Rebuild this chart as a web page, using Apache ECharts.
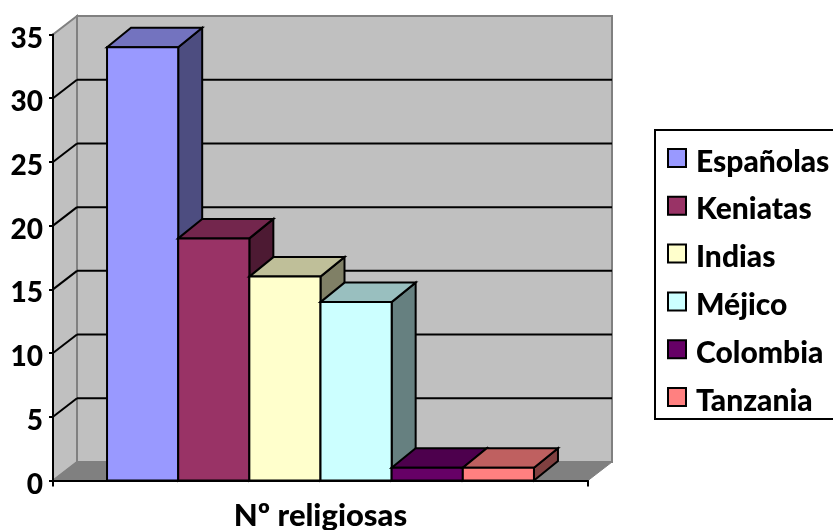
<!DOCTYPE html>
<html>
<head>
<meta charset="utf-8">
<style>html,body{margin:0;padding:0;background:#fff;overflow:hidden}#chart{width:833px;height:530px}</style>
<script src="https://cdn.jsdelivr.net/npm/echarts@6/dist/echarts.min.js"></script>
</head>
<body>
<div id="chart"></div>
<script>
const categories = ['Nº religiosas'];
const groupNames = ['Españolas', 'Keniatas', 'Indias', 'Méjico', 'Colombia', 'Tanzania'];
const groupValues = [34, 19, 16, 14, 1, 1];
const groupColors = ['#9999FF', '#993366', '#FFFFCC', '#CCFFFF', '#660066', '#FF8080'];
const yTicks = [5, 10, 15, 20, 25, 30];

// Oblique offset of the 3D box (pixels towards the back wall)
const WALL_DX = 24, WALL_DY = -18.5;
const BAR_DX = 24, BAR_DY = -19.5;
const BAR_SHARE = 0.133; // one bar's width as a share of the category band
const FONT = 'Lato';

function shade(hex, k) {
  const n = parseInt(hex.slice(1), 16);
  const c = [n >> 16, (n >> 8) & 255, n & 255].map(v => Math.round(v * k));
  return 'rgb(' + c.join(',') + ')';
}

function poly(points, fill, stroke, width) {
  return {
    type: 'polygon',
    shape: { points },
    style: { fill, stroke, lineWidth: width, lineJoin: 'miter' }
  };
}

function line(a, b, stroke, width) {
  return {
    type: 'line',
    shape: { x1: a[0], y1: a[1], x2: b[0], y2: b[1] },
    style: { stroke, lineWidth: width }
  };
}

// Side wall, back wall and floor, with the gridlines folded across both walls
function renderWalls(params, api) {
  const band = api.size([1, 0])[0];
  const c = api.coord([0, 0])[0];
  const x0 = c - band / 2, x1 = c + band / 2;
  const y0 = api.coord([0, 0])[1], yTop = api.coord([0, 35])[1];
  const bx0 = x0 + WALL_DX, bx1 = x1 + WALL_DX;
  const grey = '#808080';
  const children = [
    poly([[x0, y0], [bx0, y0 + WALL_DY], [bx0, yTop + WALL_DY], [x0, yTop]], '#C0C0C0', grey, 2),
    poly([[bx0, y0 + WALL_DY], [bx1, y0 + WALL_DY], [bx1, yTop + WALL_DY], [bx0, yTop + WALL_DY]], '#C0C0C0', grey, 2),
    poly([[x0, y0], [bx0, y0 + WALL_DY], [bx1, y0 + WALL_DY], [x1, y0]], grey, grey, 1)
  ];
  yTicks.forEach(v => {
    const y = api.coord([0, v])[1];
    children.push(line([x0, y], [bx0, y + WALL_DY], '#000', 2));
    children.push(line([bx0, y + WALL_DY], [bx1, y + WALL_DY], '#000', 2));
  });
  return { type: 'group', children };
}

function barRenderer(index) {
  return function (params, api) {
    const band = api.size([1, 0])[0];
    const w = band * BAR_SHARE;
    const p = api.coord([api.value(0), api.value(1)]);
    const yBase = api.coord([api.value(0), 0])[1];
    const xL = p[0] + (index - groupNames.length / 2) * w;
    const xR = xL + w;
    const yT = p[1];
    const color = groupColors[index];
    return {
      type: 'group',
      children: [
        poly([[xR, yBase], [xR + BAR_DX, yBase + BAR_DY], [xR + BAR_DX, yT + BAR_DY], [xR, yT]], shade(color, 0.5), '#000', 2),
        poly([[xL, yT], [xL + BAR_DX, yT + BAR_DY], [xR + BAR_DX, yT + BAR_DY], [xR, yT]], shade(color, 0.75), '#000', 2),
        poly([[xL, yBase], [xR, yBase], [xR, yT], [xL, yT]], color, '#000', 2)
      ]
    };
  };
}

const chart = echarts.init(document.getElementById('chart'), null, { renderer: 'canvas' });

chart.setOption({
  animation: false,
  backgroundColor: '#fff',
  textStyle: { fontFamily: FONT },
  grid: { left: 53, right: 245, top: 34.5, bottom: 49.5, outerBoundsMode: 'none' },
  xAxis: {
    type: 'category',
    data: categories,
    axisLine: { show: true, lineStyle: { color: '#000', width: 2 } },
    axisTick: { show: true, length: 6, lineStyle: { color: '#000', width: 2 } },
    axisLabel: { color: '#000', fontFamily: FONT, fontWeight: 900, fontSize: 31, margin: 20 },
    z: 10
  },
  yAxis: {
    type: 'value',
    min: 0,
    max: 35,
    interval: 5,
    splitLine: { show: false },
    axisLine: { show: true, lineStyle: { color: '#000', width: 2 } },
    axisTick: { show: true, length: 4, lineStyle: { color: '#000', width: 2 } },
    axisLabel: { color: '#000', fontFamily: FONT, fontWeight: 900, fontSize: 28, margin: 10, verticalAlign: 'top', lineHeight: 8 },
    z: 10
  },
  legend: {
    orient: 'vertical',
    left: 655,
    top: 130,
    padding: [17, 30, 3, 12],
    itemWidth: 18,
    itemHeight: 18,
    itemGap: 17.8,
    backgroundColor: '#fff',
    borderColor: '#000',
    borderWidth: 2,
    formatter: name => '{t|' + name + '}',
    textStyle: {
      color: '#000', fontFamily: FONT, fontWeight: 900, fontSize: 30, padding: [0, 0, 0, 5],
      rich: {
        // Sits the text a little below the swatch centre
        t: { color: '#000', fontFamily: FONT, fontWeight: 900, fontSize: 30, height: 22, lineHeight: 30, verticalAlign: 'bottom' }
      }
    },
    data: groupNames.map((name, i) => ({
      name,
      icon: 'rect',
      itemStyle: { color: groupColors[i], borderColor: '#000', borderWidth: 2 }
    }))
  },
  series: [
    {
      type: 'custom',
      name: 'walls',
      coordinateSystem: 'cartesian2d',
      renderItem: renderWalls,
      data: [[0, 0]],
      silent: true,
      clip: false,
      z: 1
    }
  ].concat(groupNames.map((name, i) => ({
    type: 'custom',
    name,
    coordinateSystem: 'cartesian2d',
    renderItem: barRenderer(i),
    encode: { x: 0, y: 1 },
    itemStyle: { color: groupColors[i] },
    data: [[0, groupValues[i]]],
    clip: false,
    z: 2 + i
  })))
});
</script>
</body>
</html>
